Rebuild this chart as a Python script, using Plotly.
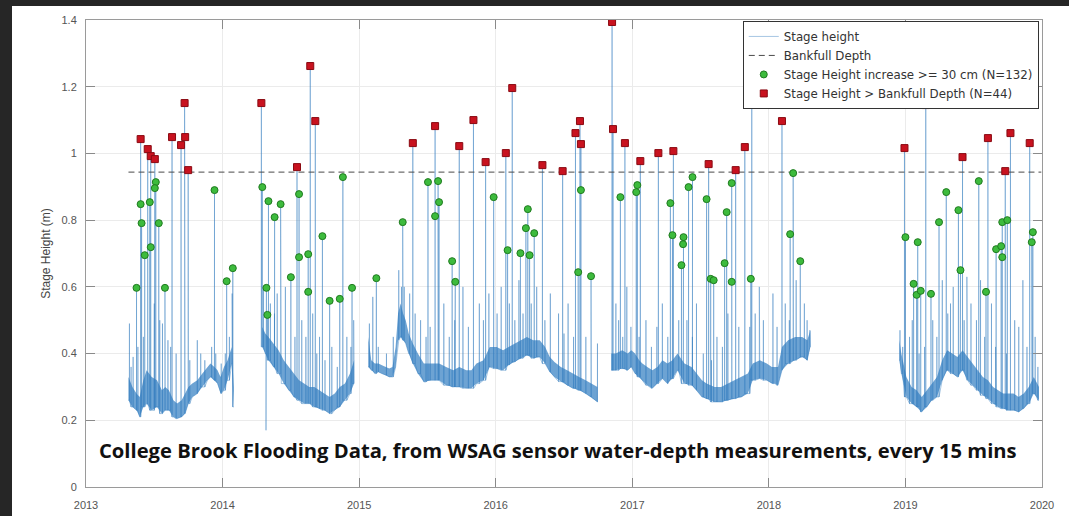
import plotly.graph_objects as go

# ---------------- data (decimal years, metres) ----------------
# baseline of the stage-height record: time, lower and upper edge of the noisy band
base_t = [
    2013.311, 2013.340, 2013.370, 2013.393, 2013.420, 2013.444, 2013.481, 2013.520, 2013.556, 2013.580,
    2013.607, 2013.640, 2013.667, 2013.700, 2013.726, 2013.750, 2013.778, 2013.815, 2013.852, 2013.889,
    2013.911, 2013.940, 2013.963, 2013.985, 2014.010, 2014.037, 2014.067, 2014.082, None,
    2014.290, 2014.313, 2014.336, 2014.373, 2014.410, 2014.448, 2014.485, 2014.522, 2014.560, 2014.597,
    2014.635, 2014.672, 2014.710, 2014.746, 2014.784, 2014.821, 2014.858, 2014.896, 2014.933, 2014.963, None,
    2015.067, 2015.089, 2015.115, 2015.141, 2015.167, 2015.193, 2015.220, 2015.244, 2015.267, 2015.285,
    2015.304, 2015.322, 2015.341, 2015.363, 2015.393, 2015.430, 2015.474, 2015.526, 2015.585, 2015.637,
    2015.689, 2015.733, 2015.785, 2015.822, 2015.859, 2015.911, 2015.956, 2016.007, 2016.054, 2016.094,
    2016.141, 2016.188, 2016.228, 2016.275, 2016.322, 2016.362, 2016.396, 2016.430, 2016.477, 2016.523,
    2016.564, 2016.611, 2016.658, 2016.698, 2016.745, None,
    2016.846, 2016.879, 2016.926, 2016.966, 2016.993, 2017.020, 2017.051, 2017.074, 2017.110, 2017.147,
    2017.184, 2017.221, 2017.257, 2017.294, 2017.331, 2017.382, 2017.434, 2017.470, 2017.510, 2017.544,
    2017.603, 2017.650, 2017.700, 2017.750, 2017.801, 2017.846, 2017.882, 2017.934, 2017.985, 2018.022,
    2018.044, 2018.067, 2018.096, 2018.141, 2018.193, 2018.244, 2018.281, 2018.304, None,
    2018.956, 2018.970, 2019.007, 2019.045, 2019.082, 2019.119, 2019.157, 2019.194, 2019.231, 2019.269,
    2019.306, 2019.343, 2019.381, 2019.418, 2019.455, 2019.493, 2019.530, 2019.567, 2019.604, 2019.642,
    2019.679, 2019.716, 2019.754, 2019.791, 2019.828, 2019.866, 2019.903, 2019.940, 2019.978,
]
base_lo = [
    0.26, 0.24, 0.23, 0.21, 0.24, 0.25, 0.23, 0.24, 0.22, 0.23,
    0.23, 0.21, 0.205, 0.21, 0.22, 0.25, 0.27, 0.28, 0.30, 0.32,
    0.33, 0.32, 0.31, 0.28, 0.29, 0.32, 0.37, 0.24, None,
    0.42, 0.40, 0.38, 0.36, 0.34, 0.31, 0.29, 0.27, 0.26, 0.25,
    0.25, 0.24, 0.235, 0.23, 0.22, 0.23, 0.24, 0.26, 0.28, 0.31, None,
    0.36, 0.35, 0.34, 0.345, 0.34, 0.335, 0.33, 0.33, 0.36, 0.44,
    0.45, 0.44, 0.43, 0.40, 0.37, 0.34, 0.315, 0.32, 0.32, 0.305,
    0.30, 0.30, 0.296, 0.296, 0.31, 0.32, 0.36, 0.355, 0.35, 0.366,
    0.375, 0.386, 0.395, 0.386, 0.39, 0.37, 0.345, 0.33, 0.316, 0.305,
    0.296, 0.29, 0.28, 0.27, 0.255, None,
    0.35, 0.35, 0.355, 0.35, 0.36, 0.34, 0.33, 0.32, 0.305, 0.296,
    0.31, 0.325, 0.31, 0.325, 0.35, 0.31, 0.305, 0.29, 0.27, 0.265,
    0.255, 0.255, 0.26, 0.265, 0.27, 0.28, 0.32, 0.325, 0.32, 0.31,
    0.31, 0.305, 0.35, 0.37, 0.38, 0.39, 0.38, 0.42, None,
    0.38, 0.34, 0.27, 0.25, 0.24, 0.225, 0.24, 0.26, 0.27, 0.32,
    0.35, 0.34, 0.33, 0.35, 0.32, 0.305, 0.29, 0.275, 0.265, 0.25,
    0.24, 0.235, 0.23, 0.23, 0.225, 0.235, 0.25, 0.28, 0.26,
]
base_hi = [
    0.33, 0.30, 0.28, 0.27, 0.32, 0.35, 0.33, 0.32, 0.29, 0.30,
    0.29, 0.26, 0.25, 0.26, 0.28, 0.30, 0.31, 0.32, 0.34, 0.36,
    0.37, 0.36, 0.35, 0.33, 0.36, 0.38, 0.42, 0.30, None,
    0.48, 0.46, 0.45, 0.43, 0.41, 0.38, 0.36, 0.34, 0.32, 0.31,
    0.30, 0.30, 0.29, 0.28, 0.27, 0.28, 0.30, 0.31, 0.34, 0.38, None,
    0.45, 0.38, 0.37, 0.37, 0.365, 0.36, 0.355, 0.36, 0.42, 0.52,
    0.55, 0.52, 0.50, 0.46, 0.43, 0.40, 0.37, 0.37, 0.37, 0.36,
    0.35, 0.36, 0.35, 0.35, 0.37, 0.38, 0.42, 0.42, 0.41, 0.42,
    0.43, 0.44, 0.45, 0.44, 0.44, 0.42, 0.39, 0.375, 0.36, 0.35,
    0.34, 0.33, 0.32, 0.31, 0.30, None,
    0.40, 0.40, 0.41, 0.40, 0.41, 0.40, 0.38, 0.37, 0.36, 0.35,
    0.36, 0.38, 0.37, 0.38, 0.40, 0.37, 0.36, 0.34, 0.32, 0.31,
    0.30, 0.30, 0.31, 0.32, 0.33, 0.34, 0.37, 0.38, 0.37, 0.36,
    0.36, 0.36, 0.42, 0.44, 0.45, 0.45, 0.44, 0.47, None,
    0.44, 0.40, 0.33, 0.30, 0.29, 0.27, 0.29, 0.31, 0.33, 0.38,
    0.41, 0.40, 0.39, 0.41, 0.39, 0.37, 0.35, 0.33, 0.32, 0.30,
    0.29, 0.28, 0.28, 0.28, 0.27, 0.28, 0.30, 0.33, 0.30,
]

# short storm spikes without a marker (time, peak)
minor_t = [
    2013.318, 2013.330, 2013.345, 2013.380, 2013.420, 2013.500, 2013.540, 2013.560, 2013.600, 2013.620,
    2013.660, 2013.700, 2013.760, 2013.815, 2013.840, 2013.870, 2013.920, 2013.950, 2013.990, 2014.020,
    2014.050, 2014.070,
    2014.300, 2014.318, 2014.330, 2014.350, 2014.380, 2014.400, 2014.430, 2014.460, 2014.500, 2014.530,
    2014.580, 2014.610, 2014.660, 2014.690, 2014.710, 2014.750, 2014.800, 2014.840, 2014.880, 2014.910,
    2014.940, 2014.960,
    2015.075, 2015.100, 2015.140, 2015.200, 2015.250, 2015.290, 2015.310, 2015.330, 2015.370, 2015.410,
    2015.450, 2015.490, 2015.520, 2015.580, 2015.620, 2015.660, 2015.700, 2015.760, 2015.800, 2015.840,
    2015.880, 2015.910, 2015.950, 2016.010, 2016.040, 2016.100, 2016.140, 2016.170, 2016.200, 2016.260,
    2016.300, 2016.360, 2016.400, 2016.460, 2016.500, 2016.530, 2016.570, 2016.620, 2016.660, 2016.700,
    2016.745,
    2016.880, 2016.900, 2016.930, 2016.960, 2016.990, 2017.050, 2017.100, 2017.140, 2017.180, 2017.220,
    2017.260, 2017.340, 2017.400, 2017.440, 2017.470, 2017.520, 2017.580, 2017.620, 2017.660, 2017.700,
    2017.730, 2017.780, 2017.860, 2017.900, 2017.930, 2017.960, 2018.030, 2018.060, 2018.120, 2018.150,
    2018.180, 2018.200, 2018.230, 2018.260, 2018.280, 2018.300,
    2018.960, 2018.980, 2019.030, 2019.050, 2019.100, 2019.140, 2019.200, 2019.230, 2019.270, 2019.310,
    2019.330, 2019.350, 2019.400, 2019.430, 2019.450, 2019.480, 2019.520, 2019.550, 2019.580, 2019.630,
    2019.660, 2019.740, 2019.770, 2019.800, 2019.830, 2019.860, 2019.890, 2019.930, 2019.950, 2019.970,
]
minor_v = [
    0.49, 0.36, 0.39, 0.42, 0.45, 0.55, 0.50, 0.49, 0.44, 0.42,
    0.40, 0.33, 0.38, 0.44, 0.40, 0.38, 0.42, 0.40, 0.37, 0.40,
    0.45, 0.58,
    0.60, 0.17, 0.50, 0.55, 0.52, 0.58, 0.55, 0.60, 0.48, 0.45,
    0.50, 0.45, 0.52, 0.40, 0.45, 0.38, 0.42, 0.36, 0.40, 0.45,
    0.42, 0.50,
    0.49, 0.57, 0.42, 0.40, 0.45, 0.65, 0.60, 0.60, 0.58, 0.52,
    0.50, 0.45, 0.48, 0.48, 0.55, 0.45, 0.50, 0.60, 0.48, 0.45,
    0.55, 0.50, 0.58, 0.52, 0.60, 0.55, 0.50, 0.62, 0.52, 0.55,
    0.60, 0.50, 0.58, 0.52, 0.46, 0.55, 0.45, 0.42, 0.45, 0.40,
    0.43,
    0.55, 0.50, 0.45, 0.60, 0.48, 0.45, 0.50, 0.42, 0.48, 0.55,
    0.45, 0.50, 0.50, 0.45, 0.55, 0.40, 0.38, 0.45, 0.42, 0.52,
    0.40, 0.48, 0.48, 0.52, 0.60, 0.50, 0.58, 0.48, 0.55, 0.50,
    0.55, 0.62, 0.58, 0.55, 0.50, 0.47,
    0.47, 0.42, 0.45, 0.50, 0.40, 0.42, 0.50, 0.45, 0.62, 0.52,
    0.55, 0.60, 0.55, 0.50, 0.63, 0.55, 0.50, 0.62, 0.45, 0.55,
    0.42, 0.40, 0.45, 0.50, 0.48, 0.62, 0.42, 0.50, 0.45, 0.36,
]

# Stage Height > Bankfull Depth (red squares)
red_t = [
    2013.400, 2013.452, 2013.474, 2013.504, 2013.630, 2013.696, 2013.726, 2013.722, 2013.748,
    2014.284, 2014.545, 2014.642, 2014.679,
    2015.393, 2015.556, 2015.733, 2015.837, 2015.926,
    2016.074, 2016.121, 2016.342, 2016.490, 2016.584, 2016.617, 2016.624, 2016.852, 2016.859, 2016.946,
    2017.059, 2017.191, 2017.301, 2017.559, 2017.757, 2017.824, 2017.875,
    2018.096, 2018.993,
    2019.149, 2019.418, 2019.604, 2019.731, 2019.769, 2019.910,
]
red_v = [
    1.043, 1.013, 0.992, 0.983, 1.049, 1.025, 1.049, 1.151, 0.950,
    1.151, 0.959, 1.262, 1.097,
    1.031, 1.082, 1.022, 1.100, 0.974,
    1.001, 1.196, 0.965, 0.947, 1.061, 1.097, 1.028, 1.394, 1.073, 1.031,
    0.977, 1.001, 1.007, 0.968, 0.950, 1.019, 1.163,
    1.097, 1.016,
    1.145, 0.989, 1.046, 0.947, 1.061, 1.031,
]

# Stage Height increase >= 30 cm (green circles)
green_t = [
    2013.370, 2013.400, 2013.407, 2013.430, 2013.467, 2013.474, 2013.511, 2013.504, 2013.533, 2013.578,
    2013.941, 2014.030, 2014.075,
    2014.291, 2014.336, 2014.381, 2014.425, 2014.321, 2014.328, 2014.500, 2014.560, 2014.560, 2014.627,
    2014.627, 2014.731, 2014.784, 2014.858, 2014.881, 2014.948,
    2015.126, 2015.319, 2015.504, 2015.578, 2015.556, 2015.585, 2015.681, 2015.704, 2015.985,
    2016.087, 2016.181, 2016.235, 2016.221, 2016.248, 2016.282, 2016.624, 2016.604, 2016.698, 2016.913,
    2017.029, 2017.037, 2017.279, 2017.294, 2017.375, 2017.372, 2017.360, 2017.412, 2017.441, 2017.544,
    2017.574, 2017.596, 2017.691, 2017.676, 2017.728, 2017.728, 2017.868,
    2018.178, 2018.156, 2018.230,
    2019.000, 2019.090, 2019.060, 2019.082, 2019.112, 2019.187, 2019.246, 2019.299, 2019.388, 2019.403,
    2019.537, 2019.590, 2019.664, 2019.701, 2019.709, 2019.709, 2019.746, 2019.933, 2019.925,
]
green_v = [
    0.597, 0.848, 0.791, 0.695, 0.854, 0.719, 0.914, 0.896, 0.791, 0.597,
    0.890, 0.617, 0.656,
    0.899, 0.857, 0.809, 0.848, 0.597, 0.516, 0.629, 0.878, 0.689, 0.698,
    0.585, 0.752, 0.558, 0.564, 0.929, 0.597,
    0.626, 0.794, 0.914, 0.917, 0.812, 0.854, 0.677, 0.615, 0.869,
    0.710, 0.701, 0.833, 0.776, 0.695, 0.761, 0.890, 0.644, 0.632, 0.869,
    0.884, 0.905, 0.851, 0.755, 0.749, 0.728, 0.665, 0.899, 0.929, 0.863,
    0.624, 0.620, 0.824, 0.671, 0.911, 0.615, 0.624,
    0.941, 0.758, 0.677,
    0.749, 0.734, 0.609, 0.576, 0.588, 0.579, 0.794, 0.884, 0.830, 0.650,
    0.917, 0.585, 0.713, 0.722, 0.689, 0.794, 0.800, 0.764, 0.734,
]

bankfull_depth = 0.944
bankfull_span = [2013.311, 2019.995]

x_ticks = [2013, 2014, 2015, 2016, 2017, 2018, 2019, 2020]
x_tick_text = ["2013", "2014", "2015", "2016", "2017", "2018", "2019", "2020"]
y_ticks = [0, 0.2, 0.4, 0.6, 0.8, 1.0, 1.2, 1.4]
y_tick_text = ["0", "0.2", "0.4", "0.6", "0.8", "1", "1.2", "1.4"]

# ---------------- build the stage-height line ----------------
segments = []
cur = []
for t, lo, hi in zip(base_t, base_lo, base_hi):
    if t is None:
        segments.append(cur)
        cur = []
    else:
        cur.append((t, lo, hi))
if cur:
    segments.append(cur)

spikes = list(zip(minor_t, minor_v)) + list(zip(red_t, red_v)) + list(zip(green_t, green_v))

seg_pts = [[(t, 0, lo) for t, lo, hi in seg] for seg in segments]
for st, sv in spikes:
    best = None
    for si, seg in enumerate(segments):
        for t, lo, hi in seg:
            d = abs(t - st)
            if best is None or d < best[0]:
                best = (d, si, lo)
    _, si, lo = best
    seg_pts[si] += [(st, 1, lo), (st, 2, sv), (st, 3, lo)]

line_x, line_y = [], []
for pts in seg_pts:
    pts.sort(key=lambda p: (p[0], p[1]))
    line_x += [p[0] for p in pts] + [None]
    line_y += [p[2] for p in pts] + [None]

band_x, band_y = [], []
for seg in segments:
    ts = [p[0] for p in seg]
    band_x += ts + ts[::-1] + [None]
    band_y += [p[2] for p in seg] + [p[1] for p in seg][::-1] + [None]

# ---------------- figure ----------------
fig = go.Figure()
fig.add_trace(go.Scatter(x=band_x, y=band_y, mode="lines", fill="toself",
                         fillcolor="rgba(40,120,190,0.68)", line=dict(width=0),
                         hoverinfo="skip", showlegend=False))
fig.add_trace(go.Scatter(x=line_x, y=line_y, mode="lines", name="Stage height",
                         line=dict(color="rgba(50,125,190,0.55)", width=0.8)))
fig.add_trace(go.Scatter(x=bankfull_span, y=[bankfull_depth, bankfull_depth], mode="lines",
                         name="Bankfull Depth",
                         line=dict(color="#4a4a4a", width=1, dash="6px,4px")))
fig.add_trace(go.Scatter(x=green_t, y=green_v, mode="markers",
                         name="Stage Height increase >= 30 cm (N=132)",
                         marker=dict(symbol="circle", size=7, color="#3dbb3d",
                                     line=dict(color="#1f7a1f", width=1))))
fig.add_trace(go.Scatter(x=red_t, y=red_v, mode="markers",
                         name="Stage Height > Bankfull Depth (N=44)",
                         marker=dict(symbol="square", size=7, color="#c8121f",
                                     line=dict(color="#8a0a12", width=1))))

axis_common = dict(showline=True, linecolor="#9a9a9a", linewidth=1, mirror="ticks",
                   ticks="inside", ticklen=9, tickcolor="#8a8a8a",
                   showgrid=True, gridcolor="#ebebeb", gridwidth=1, zeroline=False,
                   tickfont=dict(family="Liberation Sans, Arial, sans-serif", size=11, color="#555555"))

fig.update_xaxes(range=[2013, 2020], tickvals=x_ticks, ticktext=x_tick_text,
                 ticklabelstandoff=8, **axis_common)
fig.update_yaxes(range=[0, 1.4], tickvals=y_ticks, ticktext=y_tick_text,
                 ticklabelstandoff=6,
                 title=dict(text="Stage Height (m)", standoff=8,
                            font=dict(family="Liberation Sans, Arial, sans-serif", size=12, color="#444444")),
                 **axis_common)

# dark photo frame along the left and top edge of the picture (paper coordinates)
frame_path = "M -0.1,-0.08 L -0.0774,-0.08 L -0.0774,1.030 L 1.04,1.030 L 1.04,1.06 L -0.1,1.06 Z"

fig.update_layout(
    width=1069, height=516,
    margin=dict(l=86, r=27, t=20, b=29, autoexpand=False),
    paper_bgcolor="white", plot_bgcolor="white",
    legend=dict(x=0.687, y=0.998, xanchor="left", yanchor="top",
                bgcolor="white", bordercolor="#333333", borderwidth=1,
                font=dict(family="DejaVu Sans, sans-serif", size=11.8, color="#333333"),
                tracegroupgap=0),
    annotations=[dict(text="<b>College Brook Flooding Data, from WSAG sensor water-depth measurements, every 15 mins</b>",
                      xref="paper", yref="paper", x=0.494, y=0.079, xanchor="center", yanchor="middle",
                      showarrow=False,
                      font=dict(family="Open Sans, sans-serif", size=20.2, color="#111111"))],
    shapes=[
        dict(type="path", xref="paper", yref="paper", path=frame_path,
             fillcolor="#262626", line=dict(width=0), layer="above"),
    ],
    showlegend=True,
)

fig.write_html("out.html", config={"displayModeBar": False},
               post_script="document.body.style.margin='0';document.body.style.overflow='hidden';")
